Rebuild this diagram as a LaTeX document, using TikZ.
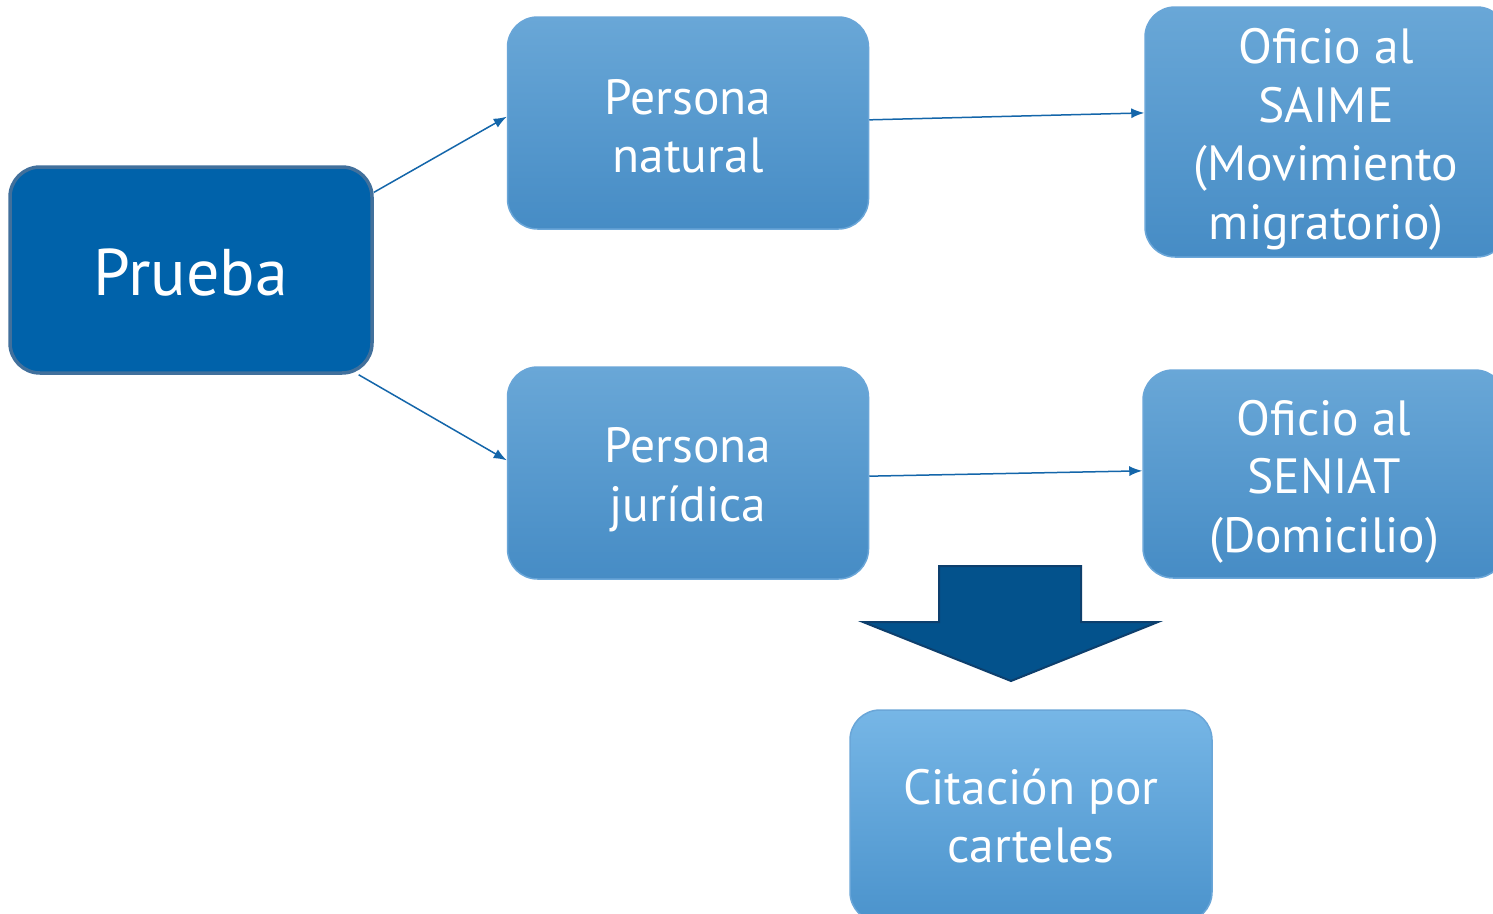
\documentclass[tikz,border=0pt]{standalone}
\usepackage{fontspec}
\setmainfont{PT Sans}
\usetikzlibrary{arrows.meta}
\definecolor{darkbox}{HTML}{0062AA}
\definecolor{darkedge}{HTML}{41709C}
\definecolor{lighttop}{HTML}{69A7D7}
\definecolor{lightbot}{HTML}{468CC5}
\definecolor{lightedge}{HTML}{6AA6D8}
\definecolor{paletop}{HTML}{76B6E6}
\definecolor{palebot}{HTML}{4B93CC}
\definecolor{linkcol}{HTML}{1466AA}
\definecolor{bigarrow}{HTML}{03528C}
\definecolor{bigarrowedge}{HTML}{0D3F6D}
\newcommand{\topstrut}[1]{\rule{0pt}{#1pt}}
\tikzset{
  basebox/.style={rounded corners=30pt, align=center, text=white, inner sep=0pt,
    font=\fontsize{49.5}{58.5}\selectfont},
  lightbox/.style={basebox, top color=lighttop, bottom color=lightbot, draw=lightedge, line width=1.5pt,
    minimum width=361pt},
  palebox/.style={basebox, top color=paletop, bottom color=palebot, draw=lightedge, line width=1.5pt,
    minimum width=362pt, minimum height=212pt},
  mainbox/.style={basebox, fill=darkbox, draw=darkedge, line width=3.5pt,
    minimum width=362pt, minimum height=206pt, font=\fontsize{66}{70}\selectfont},
  link/.style={draw=linkcol, line width=1.5pt, -{Latex[length=13pt,width=10pt]}},
}
\begin{document}
\begin{tikzpicture}[x=1pt,y=-1pt]
\useasboundingbox (0,0) rectangle (1493,913);
\fill[white] (0,0) rectangle (1493,913);
% big down arrow
\filldraw[fill=bigarrow, draw=bigarrowedge, line width=2pt]
  (939,566) -- (1081,566) -- (1081,622) -- (1158,622) -- (1011,681)
  -- (863,622) -- (939,622) -- cycle;
\node[mainbox] (prueba) at (191,270) {\topstrut{52}Prueba};
\node[lightbox, minimum height=212pt] (natural) at (688,123) {\topstrut{42}Persona\\natural};
\node[lightbox, minimum height=212pt] (juridica) at (688,473) {\topstrut{48}Persona\\jurídica};
\node[lightbox, minimum width=362pt, minimum height=250pt] (saime) at (1326,132) {\topstrut{50}Oficio al\\SAIME\\(Movimiento\\migratorio)};
\node[lightbox, minimum width=362pt, minimum height=208pt] (seniat) at (1324,474) {\topstrut{50}Oficio al\\SENIAT\\(Domicilio)};
\node[palebox] (citacion) at (1031,816) {Citación por\\carteles};
\draw[link] (prueba.23) -- (natural.178);
\draw[link] (prueba.-32) -- (juridica.176.5);
\draw[link] (natural.1.3) -- (saime.174.6);
\draw[link] (juridica.-1) -- (seniat.179.4);
\end{tikzpicture}
\end{document}
